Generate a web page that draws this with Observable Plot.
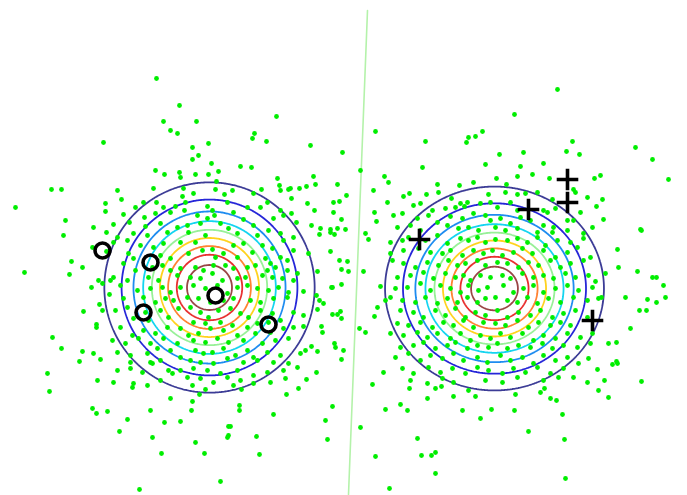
<!DOCTYPE html>
<html><head><meta charset="utf-8">
<script src="https://cdn.jsdelivr.net/npm/d3@7"></script>
<script src="https://cdn.jsdelivr.net/npm/@observablehq/plot@0.6"></script>
<style>html,body{margin:0;padding:0;background:#fff;}</style>
</head><body><div id="chart"></div>
<script>
// Feature-space samples (two Gaussian classes)
const samples = [
[156,78],[179,105],[163,121],[196,121],[170,130],[177,133],[103,142],[208,143],[192,147],[198,155],[192,159],[211,163],[240,166],[155,170],[164,174],[179,172],[180,177],[195,174],[208,174],[218,171],[216,181],[51,189],[61,189],[153,188],[183,188],[215,189],[117,190],
[276,116],[254,133],[252,138],[266,141],[310,145],[342,152],[375,131],[425,141],[468,137],[466,142],[251,167],[360,170],[422,167],[277,178],[313,176],[384,176],[388,182],[279,185],[288,189],[290,188],[299,188],[306,186],[315,184],[337,184],[437,184],[459,185],[261,189],[373,190],
[557,89],[514,114],[482,131],[475,136],[572,141],[635,147],[523,152],[566,151],[579,154],[499,154],[652,159],[485,164],[520,166],[543,163],[532,174],[517,176],[496,178],[549,178],[594,178],[600,175],[668,179],[473,182],[506,184],[573,189],
[15,207],[105,203],[105,211],[65,220],[93,227],[106,232],[63,235],[92,247],[106,251],[71,261],[82,267],[24,272],[69,274],[98,280],[102,283],[110,280],[91,287],[109,294],[99,304],[102,310],[83,311],[96,324],[96,327],[52,337],[61,348],[82,351],[93,353],[79,361],[100,359],[47,373],[97,380],[49,391],[92,408],
[346,195],[333,202],[339,201],[307,203],[387,202],[314,210],[333,212],[341,219],[374,212],[376,221],[311,225],[320,228],[330,229],[330,232],[334,234],[337,228],[345,229],[319,234],[365,233],[368,239],[330,251],[308,253],[339,260],[347,261],[341,269],[348,271],[363,271],[317,271],[331,287],[332,287],[341,284],[380,286],[303,291],[316,295],[319,300],[323,303],[317,309],[332,314],[337,314],[340,311],[341,318],[377,307],[374,316],[385,300],[303,315],[303,326],[321,326],[322,332],[359,328],[365,332],[311,346],[305,350],[317,351],[334,343],[335,347],[343,350],[341,359],[300,353],[316,372],[306,379],[383,372],[372,384],[332,406],
[602,199],[596,206],[603,219],[640,229],[641,230],[617,249],[618,267],[637,271],[605,273],[652,277],[656,277],[663,285],[595,281],[625,297],[647,299],[665,297],[656,302],[639,310],[646,310],[598,298],[601,297],[630,328],[608,343],[616,342],[616,361],[617,363],[612,364],[597,369],[604,380],[641,381],[598,390],[608,397],
[132,387],[147,385],[192,385],[205,389],[199,394],[170,398],[192,401],[233,385],[239,405],[239,410],[96,413],[107,411],[150,410],[191,410],[127,419],[164,422],[180,421],[119,431],[152,437],[228,426],[228,435],[227,437],[195,442],[161,453],[204,453],[220,481],[139,489],
[241,389],[286,394],[298,388],[273,414],[325,420],[230,426],[256,436],[327,439],[259,454],[409,388],[435,388],[441,386],[427,398],[400,404],[453,396],[468,390],[385,409],[407,410],[462,410],[360,427],[417,438],[375,456],[421,455],[431,455],[435,452],[435,473],[389,488],
[475,396],[515,394],[544,388],[540,392],[550,398],[556,400],[491,409],[514,410],[480,418],[562,414],[528,431],[564,439],[565,478],
[182,196],[193,193],[185,202],[224,194],[232,190],[253,193],[280,190],[121,199],[143,202],[156,202],[267,202],[227,202],[291,198],
[135,207],[163,207],[175,206],[184,210],[207,206],[212,210],[247,207],[260,207],[280,210],[291,213],[123,214],[144,217],[155,213],[170,212],[197,215],[214,215],[233,212],[243,219],[273,218],[283,215],[296,222],
[113,224],[129,222],[145,226],[160,223],[177,227],[187,225],[200,223],[207,218],[220,223],[228,228],[237,233],[253,225],[268,230],[280,233],[117,237],[133,233],[147,235],[167,232],[188,232],[205,235],[257,235],[293,237],
[113,242],[127,240],[140,245],[153,247],[163,243],[180,242],[195,242],[202,250],[212,249],[223,253],[233,245],[243,243],[252,252],[262,245],[272,248],[283,240],[293,250],[128,253],[133,258],[160,255],[170,258],[188,253],[215,257],[237,257],[265,258],[270,263],[280,257],[287,260],
[123,263],[135,270],[152,267],[162,265],[170,270],[180,268],[195,267],[203,270],[213,265],[225,265],[233,268],[247,267],[255,265],[267,270],[275,267],[287,270],[297,273],[113,277],[127,280],[148,277],[158,280],[177,275],[190,277],[200,278],[212,273],[222,280],[237,278],[245,277],[262,275],[272,277],[282,278],[293,280],
[120,285],[137,290],[150,288],[162,287],[170,292],[180,287],[193,285],[205,288],[217,285],[227,293],[237,287],[247,285],[257,288],[268,290],[278,287],[288,292],[123,298],[143,297],[155,302],[165,298],[173,300],[187,297],[198,298],[210,302],[223,300],[233,298],[250,300],[260,302],[273,298],[287,297],
[115,310],[127,307],[145,312],[160,310],[168,317],[178,308],[190,307],[200,312],[208,317],[218,310],[230,308],[240,313],[248,317],[260,310],[272,313],[280,320],[293,312],[133,318],[148,320],[193,322],[205,323],[220,322],[232,325],[257,323],[268,322],
[120,327],[132,335],[143,330],[155,333],[167,327],[180,328],[188,335],[198,333],[210,328],[223,330],[237,335],[247,327],[255,333],[270,332],[283,328],[293,327],[112,340],[125,343],[138,338],[150,343],[163,338],[177,343],[193,340],[205,342],[217,338],[228,342],[243,340],[262,343],[275,340],[288,338],
[117,352],[130,355],[147,353],[157,348],[170,350],[180,357],[195,350],[203,353],[212,352],[223,348],[235,355],[247,350],[253,357],[267,352],[280,355],[130,362],[150,362],[160,360],[190,360],[200,362],[213,363],[227,358],[243,362],[257,360],[273,362],[288,363],
[117,370],[130,368],[142,372],[152,363],[168,370],[180,370],[193,368],[207,370],[220,373],[237,370],[253,375],[267,372],[283,370],[297,367],[113,382],[133,383],[160,380],[172,373],[187,377],[200,378],[213,382],[227,377],[240,380],[253,383],[270,382],[285,378],
[403,196],[409,193],[426,194],[438,192],[451,198],[460,203],[467,202],[488,194],[490,202],[505,192],[517,194],[525,193],[537,192],[552,199],[575,192],[587,197],[413,205],[420,203],[432,210],[445,208],[455,207],[464,206],[480,203],[497,207],[510,202],[517,210],[543,210],[547,212],[555,208],[580,212],
[393,215],[402,213],[417,218],[428,215],[437,222],[450,216],[462,218],[473,213],[485,215],[490,220],[500,218],[510,223],[520,217],[530,220],[543,225],[553,227],[567,220],[573,220],[592,227],[397,227],[410,225],[420,230],[447,225],[458,228],[468,227],[478,230],[495,227],[505,230],[517,228],[537,232],[552,232],[567,230],[583,233],
[390,242],[402,240],[408,237],[425,240],[437,235],[447,243],[460,238],[468,240],[477,237],[485,242],[495,239],[507,240],[517,238],[527,242],[537,237],[545,245],[557,240],[570,242],[583,238],[403,250],[418,248],[430,252],[442,253],[450,250],[462,255],[473,250],[483,253],[492,250],[502,255],[513,252],[522,248],[532,253],[543,250],[555,257],[567,252],[577,247],[590,257],[390,253],
[392,260],[403,263],[415,267],[427,262],[438,265],[448,260],[457,265],[465,263],[477,260],[485,265],[497,262],[507,263],[518,267],[528,262],[538,265],[550,260],[560,267],[570,263],[583,260],[397,277],[410,275],[423,272],[433,278],[445,273],[455,277],[463,275],[470,280],[480,275],[490,277],[502,275],[510,278],[522,273],[533,277],[543,275],[553,278],[565,273],[575,277],[588,275],
[395,288],[407,287],[420,283],[430,290],[440,285],[450,288],[460,292],[468,285],[478,290],[487,287],[495,297],[503,285],[513,292],[523,288],[533,285],[543,292],[555,288],[567,285],[578,290],[592,287],[390,297],[402,300],[415,302],[425,297],[437,303],[447,298],[457,302],[467,297],[477,302],[485,298],[507,300],[517,302],[527,297],[537,303],[548,298],[560,302],[573,297],[587,300],
[400,310],[413,312],[423,317],[435,310],[445,315],[455,308],[465,317],[475,312],[485,315],[497,310],[507,317],[518,312],[530,315],[540,310],[552,317],[563,313],[575,310],[587,317],[397,323],[408,325],[420,322],[432,327],[443,322],[453,325],[463,320],[473,327],[483,322],[495,323],[505,325],[517,320],[528,327],[538,322],[550,325],[560,322],[570,325],
[390,333],[403,335],[417,332],[427,337],[437,333],[450,338],[460,333],[470,340],[480,335],[490,338],[500,333],[510,337],[522,333],[533,340],[543,335],[555,338],[567,333],[580,337],[592,333],[400,347],[413,345],[423,342],[435,348],[447,345],[455,342],[467,348],[477,345],[488,347],[497,343],[507,348],[518,345],[530,347],[542,343],[552,348],[563,345],[577,347],[590,343],
[395,357],[408,353],[420,360],[430,355],[442,358],[453,353],[463,360],[477,357],[487,362],[500,355],[510,360],[522,357],[533,363],[543,355],[555,360],[567,357],[578,363],[588,358],[402,368],[413,373],[428,367],[440,372],[452,368],[465,373],[477,367],[488,370],[502,373],[513,368],[525,372],[537,367],[550,373],[563,368],[573,377],
[410,380],[427,383],[442,378],[453,382],[485,380],[502,382],[517,377],[543,380],[558,377],[587,382]
];
// Highlighted samples of each class
const circleMarkers = [[102,250],[150,262],[143,312],[215,295],[268,324]];
const plusMarkers = [[567,179],[567,202],[528,209],[419,239],[592,320]];
// Separating line (two end points)
const boundary = [[367,10],[348,494]];
// Gaussian class models: centre and spread
const classCenters = [[209,287],[494,288]];
const classSigmas = [[49,49],[51,47.5]];
// Contour levels and their colours
const levels = [0.1,0.2,0.3,0.4,0.5,0.6,0.7,0.8,0.9];
const levelColors = ["#3c3c96","#2626d8","#1e8cf0","#14d4f0","#98f098","#ffd21e","#ff8232","#e83030","#9a4646"];

function density(x, y) {
  let best = 0;
  classCenters.forEach(([cx, cy], i) => {
    const [sx, sy] = classSigmas[i];
    const v = Math.exp(-((x - cx) ** 2 / (2 * sx * sx) + (y - cy) ** 2 / (2 * sy * sy)));
    if (v > best) best = v;
  });
  return best;
}

const chart = Plot.plot({
  width: 687,
  height: 495,
  margin: 0,
  x: {domain: [0, 687], axis: null},
  y: {domain: [0, 495], reverse: true, axis: null},
  color: {type: "ordinal", domain: levels, range: levelColors},
  marks: [
    Plot.contour({
      value: density, x1: 0, x2: 687, y1: 0, y2: 495,
      thresholds: levels, pixelSize: 1,
      stroke: "value", fill: "none", strokeWidth: 1.8, strokeOpacity: 1
    }),
    Plot.line(boundary, {x: d => d[0], y: d => d[1], stroke: "#b4f2aa", strokeWidth: 1.6}),
    Plot.dot(samples, {x: d => d[0], y: d => d[1], r: 2.4, fill: "#00ee00", stroke: "none"}),
    Plot.dot(circleMarkers, {x: d => d[0], y: d => d[1], r: 7.5, stroke: "#000", strokeWidth: 3.6, fill: "none"}),
    Plot.dot(plusMarkers, {x: d => d[0], y: d => d[1], symbol: "plus", r: 7, stroke: "#000", strokeWidth: 3.6})
  ]
});
document.getElementById("chart").appendChild(chart);
</script>
</body></html>
